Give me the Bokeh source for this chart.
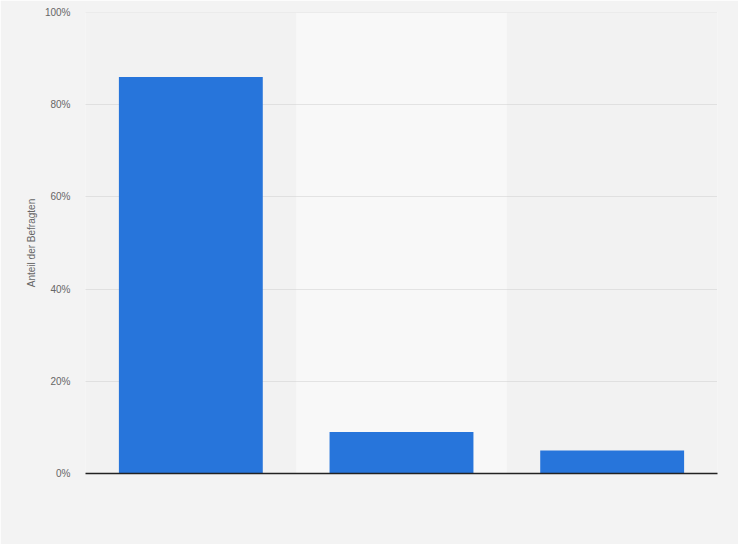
from bokeh.plotting import figure
from bokeh.models import FactorRange, Range1d, FixedTicker, PrintfTickFormatter
from bokeh.embed import file_html
from bokeh.resources import INLINE

categories = ["Ja", "Nein", "Weiß nicht"]
values = [86, 9, 5]
y_ticks = [0, 20, 40, 60, 80, 100]
y_max = 100
band_categories = [categories[1]]

p = figure(x_range=FactorRange(*categories), y_range=Range1d(0, y_max),
           width=738, height=544, output_backend="svg", toolbar_location=None,
           min_border_left=85, min_border_right=21, min_border_top=12, min_border_bottom=71)
p.background_fill_color = "#f2f2f2"
p.border_fill_color = "#f3f3f3"
p.outline_line_color = None

p.vbar(x=band_categories, top=[y_max], width=1.0, fill_color="#f8f8f8", line_color=None)
p.hspan(y=y_ticks[1:], line_color="#cfcfcf", line_width=1, line_dash="1 1")
p.vbar(x=categories, top=values, width=0.683, fill_color="#2775db", line_color=None)

p.xgrid.grid_line_color = None
p.ygrid.grid_line_color = None

p.yaxis.ticker = FixedTicker(ticks=y_ticks)
p.yaxis.formatter = PrintfTickFormatter(format="%d%%")
p.yaxis.axis_line_color = None
p.yaxis.major_tick_line_color = None
p.yaxis.minor_tick_line_color = None
p.yaxis.major_tick_out = 0
p.yaxis.major_label_standoff = 15
p.yaxis.major_label_text_font = "Liberation Sans"
p.yaxis.major_label_text_font_size = "10px"
p.yaxis.major_label_text_color = "#666666"
p.yaxis.axis_label = "Anteil der Befragten"
p.yaxis.axis_label_text_font = "Liberation Sans"
p.yaxis.axis_label_text_font_size = "10px"
p.yaxis.axis_label_text_font_style = "normal"
p.yaxis.axis_label_text_color = "#666666"
p.yaxis.axis_label_standoff = 5

p.xaxis.axis_line_color = "#222222"
p.xaxis.axis_line_width = 1.5
p.xaxis.major_tick_line_color = None
p.xaxis.minor_tick_line_color = None
p.xaxis.major_label_text_color = None
p.xaxis.major_label_text_font_size = "1px"

open("out.html", "w").write(file_html(p, INLINE))
